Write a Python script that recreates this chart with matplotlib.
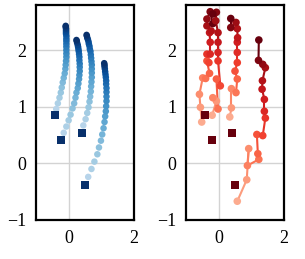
import numpy as np
import matplotlib.pyplot as plt

plt.rcParams['font.family'] = ['Liberation Serif', 'DejaVu Serif']
plt.rcParams['font.size'] = 13

# start positions (squares)
start_x = [-0.43, -0.22, 0.40, 0.50]
start_y = [0.85, 0.42, 0.54, -0.38]

# predicted trajectories (left)
p1_x = [-0.38, -0.33, -0.28, -0.24, -0.21, -0.18, -0.15, -0.12, -0.10, -0.09, -0.08, -0.07, -0.07,
        -0.07, -0.07, -0.07, -0.07, -0.07, -0.07, -0.08, -0.08, -0.08, -0.08, -0.09, -0.09]
p1_y = [0.96, 1.06, 1.16, 1.25, 1.34, 1.43, 1.51, 1.59, 1.67, 1.74, 1.81, 1.88, 1.94,
        2.00, 2.06, 2.11, 2.16, 2.20, 2.25, 2.29, 2.32, 2.35, 2.38, 2.41, 2.43]
p2_x = [-0.15, -0.07, 0.00, 0.06, 0.12, 0.17, 0.21, 0.24, 0.28, 0.30, 0.32, 0.33, 0.34,
        0.34, 0.34, 0.33, 0.33, 0.32, 0.31, 0.30, 0.29, 0.28, 0.26, 0.25, 0.24]
p2_y = [0.54, 0.65, 0.76, 0.86, 0.97, 1.06, 1.16, 1.25, 1.33, 1.41, 1.49, 1.56, 1.63,
        1.70, 1.76, 1.82, 1.88, 1.93, 1.98, 2.02, 2.06, 2.09, 2.13, 2.16, 2.18]
p3_x = [0.45, 0.52, 0.57, 0.61, 0.64, 0.66, 0.68, 0.69, 0.70, 0.71, 0.71, 0.71, 0.71,
        0.70, 0.69, 0.68, 0.67, 0.65, 0.64, 0.62, 0.61, 0.59, 0.57, 0.56, 0.55]
p3_y = [0.67, 0.78, 0.89, 0.99, 1.09, 1.18, 1.27, 1.36, 1.44, 1.52, 1.60, 1.67, 1.74,
        1.80, 1.86, 1.92, 1.98, 2.02, 2.07, 2.11, 2.15, 2.19, 2.22, 2.25, 2.27]
p4_x = [0.60, 0.70, 0.79, 0.88, 0.93, 0.99, 1.03, 1.07, 1.10, 1.12, 1.14, 1.15, 1.16,
        1.16, 1.16, 1.16, 1.15, 1.15, 1.14, 1.13, 1.12, 1.11, 1.10, 1.10, 1.09]
p4_y = [-0.24, -0.10, 0.03, 0.16, 0.28, 0.40, 0.51, 0.62, 0.73, 0.83, 0.92, 1.01, 1.10,
        1.18, 1.26, 1.33, 1.40, 1.46, 1.52, 1.57, 1.62, 1.67, 1.71, 1.74, 1.77]

# observed trajectories (right)
o1_x = [-0.52, -0.56, -0.59, -0.49, -0.40, -0.28, -0.36, -0.30, -0.36, -0.26, -0.26, -0.28, -0.23,
        -0.36, -0.36, -0.26, -0.18]
o1_y = [0.73, 0.99, 1.22, 1.51, 1.50, 1.59, 1.81, 1.78, 1.93, 1.93, 2.14, 2.31, 2.34,
        2.43, 2.55, 2.68, 2.47]
o2_x = [-0.20, -0.07, -0.18, -0.02, -0.07, 0.05, -0.02, -0.02, -0.02, -0.02, -0.09, -0.07, -0.18]
o2_y = [0.85, 1.10, 1.16, 0.96, 1.49, 1.37, 1.81, 1.96, 2.14, 2.31, 2.52, 2.67, 2.64]
o3_x = [0.34, 0.39, 0.39, 0.53, 0.57, 0.50, 0.57, 0.57, 0.57, 0.58, 0.57, 0.53, 0.37, 0.37]
o3_y = [0.82, 0.98, 1.32, 1.25, 1.49, 1.63, 1.78, 1.96, 2.14, 2.22, 2.38, 2.49, 2.40, 2.56]
o4_x = [0.57, 0.86, 0.92, 0.88, 1.23, 1.20, 1.17, 1.35, 1.43, 1.40, 1.40, 1.33, 1.34,
        1.43, 1.35, 1.22, 1.23]
o4_y = [-0.67, -0.29, 0.26, -0.04, 0.07, 0.17, 0.51, 0.49, 0.80, 0.92, 1.13, 1.31, 1.46,
        1.69, 1.75, 1.82, 2.18]

pred = [(p1_x, p1_y), (p2_x, p2_y), (p3_x, p3_y), (p4_x, p4_y)]
obs = [(o1_x, o1_y), (o2_x, o2_y), (o3_x, o3_y), (o4_x, o4_y)]

fig = plt.figure(figsize=(3.05, 2.59), dpi=100)
ax1 = fig.add_axes([0.118, 0.151, 0.321, 0.830])
ax2 = fig.add_axes([0.610, 0.151, 0.321, 0.830])

for xs, ys in pred:
    cols = plt.cm.Blues(np.linspace(0.3, 1.0, len(xs)))
    ax1.scatter(xs, ys, c=cols, s=22, linewidths=0, zorder=3)
ax1.scatter(start_x, start_y, c='#08306b', marker='s', s=40, linewidths=0, zorder=4)

for xs, ys in obs:
    cols = plt.cm.Reds(np.linspace(0.3, 1.0, len(xs)))
    for i in range(len(xs) - 1):
        ax2.plot(xs[i:i+2], ys[i:i+2], color=cols[i+1], lw=1.5, zorder=2)
    ax2.scatter(xs, ys, c=cols, s=30, linewidths=0, zorder=3)
ax2.scatter(start_x, start_y, c='#67000d', marker='s', s=40, linewidths=0, zorder=4)

for ax in (ax1, ax2):
    ax.set_xlim(-1, 2)
    ax.set_ylim(-1, 2.8)
    ax.set_xticks([0, 2])
    ax.set_yticks([-1, 0, 1, 2])
    ax.grid(True, color='#d3d3d3', lw=1)
    ax.set_axisbelow(True)
    ax.tick_params(length=0, pad=7)
    for sp in ax.spines.values():
        sp.set_linewidth(1.6)
        sp.set_color('black')

plt.savefig('out.png', dpi=100)
